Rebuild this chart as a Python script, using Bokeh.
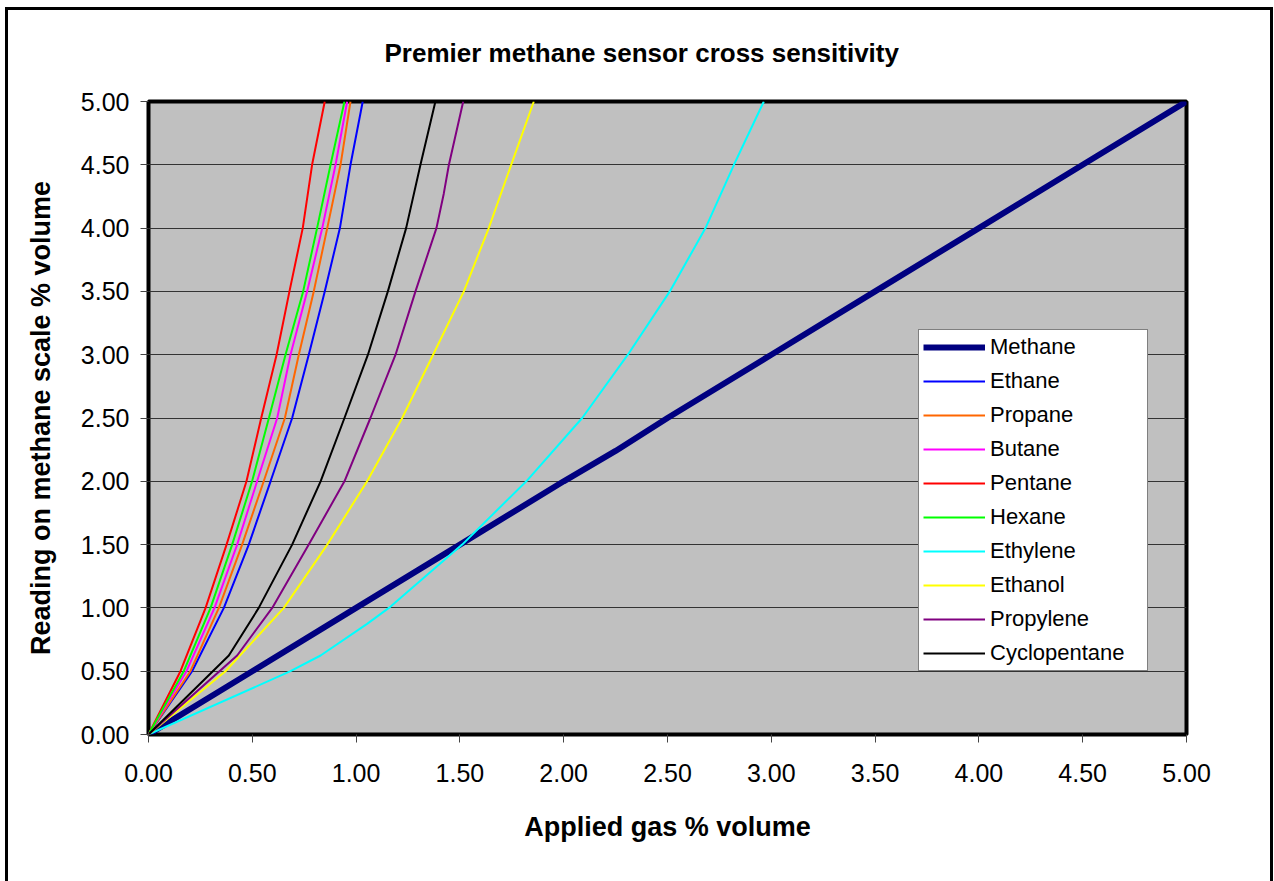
from bokeh.plotting import figure
from bokeh.models import Range1d, FixedTicker, NumeralTickFormatter, Legend, LegendItem
from bokeh.embed import file_html
from bokeh.resources import INLINE

# ---------------- data ----------------
ticks = [0.0, 0.5, 1.0, 1.5, 2.0, 2.5, 3.0, 3.5, 4.0, 4.5, 5.0]

y_std = [0.0, 0.5, 1.0, 1.5, 2.0, 2.5, 3.0, 3.5, 4.0, 4.5, 5.0]

methane_x = [0.0, 0.5, 1.0, 1.5, 2.0, 2.25, 2.5, 3.0, 3.5, 4.0, 4.5, 5.0]
methane_y = [0.0, 0.5, 1.0, 1.5, 2.0, 2.24, 2.5, 3.0, 3.5, 4.0, 4.5, 5.0]

ethane_x = [0.0, 0.210, 0.363, 0.483, 0.588, 0.692, 0.772, 0.849, 0.922, 0.973, 1.032]
propane_x = [0.0, 0.202, 0.339, 0.451, 0.555, 0.657, 0.724, 0.796, 0.861, 0.925, 0.973]
butane_x = [0.0, 0.183, 0.318, 0.427, 0.523, 0.620, 0.684, 0.764, 0.837, 0.901, 0.957]
pentane_x = [0.0, 0.154, 0.275, 0.376, 0.472, 0.543, 0.617, 0.679, 0.743, 0.788, 0.849]
hexane_x = [0.0, 0.170, 0.299, 0.403, 0.499, 0.580, 0.660, 0.745, 0.812, 0.877, 0.944]

ethylene_x = [0.0, 0.684, 0.829, 1.053, 1.158, 1.511, 1.820, 2.089, 2.309, 2.511, 2.683, 2.820, 2.964]
ethylene_y = [0.0, 0.5, 0.624, 0.874, 1.0, 1.5, 2.0, 2.5, 3.0, 3.5, 4.0, 4.5, 5.0]

ethanol_x = [0.0, 0.371, 0.652, 0.861, 1.053, 1.222, 1.371, 1.519, 1.639, 1.747, 1.856]

propylene_x = [0.0, 0.427, 0.596, 0.772, 0.944, 1.069, 1.190, 1.286, 1.387, 1.422, 1.447, 1.516]
propylene_y = [0.0, 0.624, 1.0, 1.5, 2.0, 2.5, 3.0, 3.5, 4.0, 4.27, 4.5, 5.0]

cyclopentane_x = [0.0, 0.387, 0.531, 0.692, 0.829, 0.944, 1.057, 1.153, 1.241, 1.310, 1.382]
cyclopentane_y = [0.0, 0.624, 1.0, 1.5, 2.0, 2.5, 3.0, 3.5, 4.0, 4.5, 5.0]

series = [
    ("Methane", methane_x, methane_y, "#000080", 6),
    ("Ethane", ethane_x, y_std, "#0000FF", 2),
    ("Propane", propane_x, y_std, "#FF6600", 2),
    ("Butane", butane_x, y_std, "#FF00FF", 2),
    ("Pentane", pentane_x, y_std, "#FF0000", 2),
    ("Hexane", hexane_x, y_std, "#00FF00", 2),
    ("Ethylene", ethylene_x, ethylene_y, "#00FFFF", 2),
    ("Ethanol", ethanol_x, y_std, "#FFFF00", 2),
    ("Propylene", propylene_x, propylene_y, "#800080", 2),
    ("Cyclopentane", cyclopentane_x, cyclopentane_y, "#000000", 2),
]

FONT = "Liberation Sans"

p = figure(width=1274, height=881, output_backend="svg", toolbar_location=None,
           x_range=Range1d(0, 5), y_range=Range1d(0, 5),
           min_border_left=148, min_border_right=88, min_border_top=101, min_border_bottom=147,
           title="Premier methane sensor cross sensitivity")

# outer chart border (left, top, right sides; bottom lies below the window)
p.styles = {
    "background-color": "white",
    "box-shadow": ("inset 5px 0 0 0 white, inset 0 7px 0 0 white, inset -1px 0 0 0 white, "
                   "inset 8px 0 0 0 black, inset 0 10px 0 0 black, inset -4px 0 0 0 black"),
}

p.background_fill_color = "#C0C0C0"
p.border_fill_alpha = 0
p.outline_line_color = "black"
p.outline_line_width = 4

p.title.text_font = FONT
p.title.text_font_size = "26px"
p.title.text_font_style = "bold"
p.title.text_color = "black"
p.title.align = "left"
p.title.offset = 236
p.title.standoff = 68

p.xgrid.grid_line_color = None
p.ygrid.grid_line_color = "#333333"
p.ygrid.grid_line_width = 1

for ax in (p.xaxis[0], p.yaxis[0]):
    ax.ticker = FixedTicker(ticks=ticks)
    ax.formatter = NumeralTickFormatter(format="0.00")
    ax.axis_line_color = None
    ax.major_tick_line_color = "#444444"
    ax.major_tick_line_width = 1
    ax.major_tick_in = 0
    ax.major_tick_out = 8
    ax.minor_tick_line_color = None
    ax.major_label_text_font = FONT
    ax.major_label_text_font_size = "25px"
    ax.major_label_text_color = "black"
    ax.axis_label_text_font = FONT
    ax.axis_label_text_font_size = "27px"
    ax.axis_label_text_font_style = "bold"
    ax.axis_label_text_color = "black"

p.xaxis.axis_label = "Applied gas % volume"
p.yaxis.axis_label = "Reading on methane scale % volume"
p.xaxis.major_label_standoff = 21
p.yaxis.major_label_standoff = 11
p.xaxis.axis_label_standoff = 27
p.yaxis.axis_label_standoff = 22

items = []
for name, xs, ys, color, lw in series:
    r = p.line(xs, ys, line_color=color, line_width=lw)
    items.append(LegendItem(label=name, renderers=[r]))

legend = Legend(items=items, location=(770, 63))
legend.background_fill_color = "white"
legend.background_fill_alpha = 1
legend.border_line_color = "black"
legend.border_line_width = 1
legend.label_text_font = FONT
legend.label_text_font_size = "22px"
legend.label_text_color = "black"
legend.glyph_width = 62
legend.glyph_height = 26
legend.label_height = 26
legend.label_width = 153
legend.label_standoff = 5
legend.spacing = 8
legend.padding = 4
legend.margin = 0
p.add_layout(legend, "center")

open("out.html", "w").write(file_html(p, INLINE))
